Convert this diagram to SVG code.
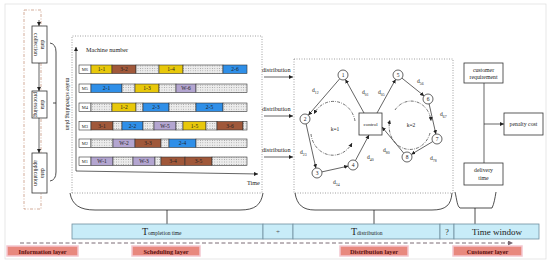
<svg xmlns="http://www.w3.org/2000/svg" width="550" height="263" viewBox="0 0 550 263">
<defs>
<pattern id="dots" width="2.4" height="2.4" patternUnits="userSpaceOnUse">
<rect width="2.4" height="2.4" fill="#ececec"/>
<circle cx="1.2" cy="1.2" r="0.45" fill="#8a8a8a"/>
</pattern>
<marker id="ah" viewBox="0 0 10 10" refX="10" refY="5" markerWidth="5" markerHeight="5" orient="auto" markerUnits="userSpaceOnUse">
<path d="M0,0 L10,5 L0,10 z" fill="#222"/>
</marker>
<marker id="ahs" viewBox="0 0 10 10" refX="10" refY="5" markerWidth="4" markerHeight="4" orient="auto" markerUnits="userSpaceOnUse">
<path d="M0,0 L10,5 L0,10 z" fill="#222"/>
</marker>
<marker id="ahd" viewBox="0 0 10 10" refX="10" refY="5" markerWidth="5" markerHeight="5" orient="auto" markerUnits="userSpaceOnUse">
<path d="M0,0 L10,5 L0,10 z" fill="#7a6a74"/>
</marker>
</defs>
<style>
text{font-family:"Liberation Serif","Times New Roman",serif;fill:#222}
.seg{stroke:#333;stroke-width:0.6}
.y{fill:#e8c80a}.b{fill:#a0583a}.bl{fill:#2f8fe8}.p{fill:#b3a5d0}.d{fill:url(#dots)}.lb{fill:#fff}
.st{font-size:5.5px;text-anchor:middle}
.ml{font-size:4.5px;text-anchor:middle}
.box{fill:#fff;stroke:#333;stroke-width:0.8}
.bt{font-size:5.8px;text-anchor:middle}
.dot{fill:none;stroke:#888;stroke-width:0.8;stroke-dasharray:1 1.5}
.ln{fill:none;stroke:#222;stroke-width:0.7}
.node{fill:#fff;stroke:#222;stroke-width:0.7}
.nt{font-size:5.5px;text-anchor:middle}
.el{font-size:5.5px}
.sub{font-size:3.8px}
.loop{fill:none;stroke:#333;stroke-width:0.7;stroke-dasharray:3 1.2 0.8 1.2}
.cell{fill:#c8ecf8;stroke:#6f8f9f;stroke-width:0.8}
.lay{fill:#e8887e;stroke:#f4c6cf;stroke-width:1.5}
.lt{font-size:6.3px;font-weight:bold;fill:#5a1010;text-anchor:middle}
.brace{fill:none;stroke:#222;stroke-width:0.8}
</style>
<rect x="0" y="0" width="550" height="263" fill="#fff"/>
<rect x="5" y="4" width="541" height="255" fill="none" stroke="#dcdcdc" stroke-width="0.7"/>

<g id="info-layer">
<rect x="24" y="10" width="17" height="199" fill="none" stroke="#c08a70" stroke-width="0.7" stroke-dasharray="3 1.5 1 1.5"/>
<line x1="39" y1="20" x2="39" y2="26" class="ln" marker-end="url(#ahs)"/>
<g id="data-collection">
<rect x="32" y="26" width="15" height="37" class="box"/>
<text class="bt" transform="translate(39.5,44.5) rotate(90)"><tspan x="0" y="-1.5">data</tspan><tspan x="0" y="5.5">collection</tspan></text>
</g>
<g id="data-processing">
<rect x="32" y="91" width="15" height="27" class="box"/>
<text class="bt" transform="translate(39.5,104.5) rotate(90)"><tspan x="0" y="-1.5">data</tspan><tspan x="0" y="5.5">processing</tspan></text>
</g>
<g id="data-application">
<rect x="32" y="153" width="15" height="40" class="box"/>
<text class="bt" transform="translate(39.5,173) rotate(90)"><tspan x="0" y="-1.5">data</tspan><tspan x="0" y="5.5">application</tspan></text>
</g>
</g>

<g id="scheduling-layer">
<path d="M50 43 Q56 44 56 52 L56 172 Q56 180 50 181 M56 103 L53 103" class="brace"/>
<text transform="translate(64,104) rotate(90)" style="font-size:6px;text-anchor:middle" y="-1.5">make scheduling plan</text>
<path d="M72 193 L72 36 L262 36 L262 193" class="dot"/>
<line x1="72" y1="193" x2="262" y2="193" class="dot"/>
<line x1="76" y1="171" x2="76" y2="47" class="ln" marker-end="url(#ahs)"/>
<line x1="76" y1="171" x2="258" y2="174" class="ln" marker-end="url(#ahs)"/>
<text x="86" y="52" style="font-size:6.2px">Machine number</text>
<text x="247" y="185" style="font-size:6.2px">Time</text>

<g id="row-M6">
<rect x="79" y="65" width="12" height="8.5" class="seg lb"/><text x="85" y="71" class="ml">M6</text>
<rect x="91" y="65" width="21" height="8.5" class="seg y"/><text x="101.5" y="71.2" class="st">1-1</text>
<rect x="112" y="65" width="24" height="8.5" class="seg b"/><text x="124" y="71.2" class="st">3-2</text>
<rect x="136" y="65" width="23" height="8.5" class="seg d"/>
<rect x="159" y="65" width="24" height="8.5" class="seg y"/><text x="171" y="71.2" class="st">1-4</text>
<rect x="183" y="65" width="40" height="8.5" class="seg d"/>
<rect x="223" y="65" width="24" height="8.5" class="seg bl"/><text x="235" y="71.2" class="st">2-6</text>
</g>
<g id="row-M5">
<rect x="79" y="84" width="12" height="8.5" class="seg lb"/><text x="85" y="90" class="ml">M5</text>
<rect x="91" y="84" width="31" height="8.5" class="seg bl"/><text x="106.5" y="90.2" class="st">2-1</text>
<rect x="122" y="84" width="13" height="8.5" class="seg d"/>
<rect x="135" y="84" width="24" height="8.5" class="seg y"/><text x="147" y="90.2" class="st">1-3</text>
<rect x="159" y="84" width="17" height="8.5" class="seg d"/>
<rect x="176" y="84" width="20" height="8.5" class="seg p"/><text x="186" y="90.2" class="st">W-6</text>
<rect x="196" y="84" width="51" height="8.5" class="seg d"/>
</g>
<g id="row-M4">
<rect x="79" y="103" width="12" height="8.5" class="seg lb"/><text x="85" y="109" class="ml">M4</text>
<rect x="91" y="103" width="21" height="8.5" class="seg d"/>
<rect x="112" y="103" width="24" height="8.5" class="seg y"/><text x="124" y="109.2" class="st">1-2</text>
<rect x="136" y="103" width="7" height="8.5" class="seg d"/>
<rect x="143" y="103" width="26" height="8.5" class="seg bl"/><text x="156" y="109.2" class="st">2-3</text>
<rect x="169" y="103" width="27" height="8.5" class="seg d"/>
<rect x="196" y="103" width="27" height="8.5" class="seg bl"/><text x="209.5" y="109.2" class="st">2-5</text>
<rect x="223" y="103" width="24" height="8.5" class="seg d"/>
</g>
<g id="row-M3">
<rect x="79" y="121.5" width="12" height="8.5" class="seg lb"/><text x="85" y="127.5" class="ml">M3</text>
<rect x="91" y="121.5" width="22" height="8.5" class="seg b"/><text x="102" y="127.7" class="st">3-1</text>
<rect x="113" y="121.5" width="9" height="8.5" class="seg d"/>
<rect x="122" y="121.5" width="21" height="8.5" class="seg bl"/><text x="132.5" y="127.7" class="st">2-2</text>
<rect x="143" y="121.5" width="11" height="8.5" class="seg d"/>
<rect x="154" y="121.5" width="22" height="8.5" class="seg p"/><text x="165" y="127.7" class="st">W-5</text>
<rect x="176" y="121.5" width="7" height="8.5" class="seg d"/>
<rect x="183" y="121.5" width="23" height="8.5" class="seg y"/><text x="194.5" y="127.7" class="st">1-5</text>
<rect x="206" y="121.5" width="11" height="8.5" class="seg d"/>
<rect x="217" y="121.5" width="26" height="8.5" class="seg b"/><text x="230" y="127.7" class="st">3-6</text>
<rect x="243" y="121.5" width="4" height="8.5" class="seg d"/>
</g>
<g id="row-M2">
<rect x="79" y="139" width="12" height="8.5" class="seg lb"/><text x="85" y="145" class="ml">M2</text>
<rect x="91" y="139" width="22" height="8.5" class="seg d"/>
<rect x="113" y="139" width="22" height="8.5" class="seg p"/><text x="124" y="145.2" class="st">W-2</text>
<rect x="135" y="139" width="26" height="8.5" class="seg b"/><text x="148" y="145.2" class="st">3-3</text>
<rect x="161" y="139" width="8" height="8.5" class="seg d"/>
<rect x="169" y="139" width="27" height="8.5" class="seg bl"/><text x="182.5" y="145.2" class="st">2-4</text>
<rect x="196" y="139" width="51" height="8.5" class="seg d"/>
</g>
<g id="row-M1">
<rect x="79" y="157" width="12" height="8.5" class="seg lb"/><text x="85" y="163" class="ml">M1</text>
<rect x="91" y="157" width="22" height="8.5" class="seg p"/><text x="102" y="163.2" class="st">W-1</text>
<rect x="113" y="157" width="20" height="8.5" class="seg d"/>
<rect x="133" y="157" width="22" height="8.5" class="seg p"/><text x="144" y="163.2" class="st">W-3</text>
<rect x="155" y="157" width="6" height="8.5" class="seg d"/>
<rect x="161" y="157" width="24" height="8.5" class="seg b"/><text x="173" y="163.2" class="st">3-4</text>
<rect x="185" y="157" width="27" height="8.5" class="seg b"/><text x="198.5" y="163.2" class="st">3-5</text>
<rect x="212" y="157" width="35" height="8.5" class="seg d"/>
</g>
</g>

<g id="connectors">
<line x1="39" y1="63" x2="39" y2="91" class="ln" marker-end="url(#ahs)"/>
<line x1="39" y1="118" x2="39" y2="153" class="ln" marker-end="url(#ahs)"/>
<line x1="264" y1="77" x2="293" y2="77" class="ln" marker-end="url(#ahs)"/>
<line x1="264" y1="116" x2="293" y2="116" class="ln" marker-end="url(#ahs)"/>
<line x1="264" y1="157" x2="293" y2="157" class="ln" marker-end="url(#ahs)"/>
<line x1="339.7" y1="78.8" x2="308.3" y2="115.2" class="ln" marker-end="url(#ahs)"/>
<line x1="364" y1="113" x2="345.4" y2="79.4" class="ln" marker-end="url(#ahs)"/>
<line x1="306.1" y1="123.9" x2="315.9" y2="168.1" class="ln" marker-end="url(#ahs)"/>
<line x1="321.9" y1="171.9" x2="348.1" y2="166.1" class="ln" marker-end="url(#ahs)"/>
<line x1="355.4" y1="160.6" x2="369" y2="135" class="ln" marker-end="url(#ahs)"/>
<line x1="377" y1="113" x2="395.6" y2="79.4" class="ln" marker-end="url(#ahs)"/>
<line x1="401.9" y1="78.1" x2="424.1" y2="95.9" class="ln" marker-end="url(#ahs)"/>
<line x1="429.1" y1="103.9" x2="435.9" y2="134.1" class="ln" marker-end="url(#ahs)"/>
<line x1="432.7" y1="141.6" x2="411.3" y2="154.4" class="ln" marker-end="url(#ahs)"/>
<line x1="403.8" y1="153.2" x2="382" y2="127" class="ln" marker-end="url(#ahs)"/>
<path d="M355 121 A22 24 0 0 0 314 114" class="loop" marker-end="url(#ahs)"/>
<path d="M311 134 A22 24 0 0 0 352 143" class="loop" marker-end="url(#ahs)"/>
<path d="M395 110 A20 22 0 0 1 431 121" class="loop" marker-end="url(#ahs)"/>
<path d="M430 133 A20 22 0 0 1 390 120" class="loop" marker-end="url(#ahs)"/>
<line x1="484" y1="83" x2="484" y2="163" class="ln"/>
<line x1="484" y1="124" x2="504" y2="124" class="ln" marker-end="url(#ahs)"/>
<line x1="20" y1="243" x2="513" y2="243" fill="none" stroke="#7a6a74" stroke-width="1" stroke-dasharray="4 2.5" marker-end="url(#ahd)"/>
</g>

<g id="distribution-layer">
<text x="262" y="72" style="font-size:6.2px">distribution</text>
<text x="262" y="111" style="font-size:6.2px">distribution</text>
<text x="262" y="152" style="font-size:6.2px">distribution</text>
<rect x="294" y="59" width="159" height="134" class="dot"/>
<g id="node-1"><circle cx="343" cy="75" r="5" class="node"/><text x="343" y="77" class="nt">1</text></g>
<g id="node-2"><circle cx="305" cy="119" r="5" class="node"/><text x="305" y="121" class="nt">2</text></g>
<g id="node-3"><circle cx="317" cy="173" r="5" class="node"/><text x="317" y="175" class="nt">3</text></g>
<g id="node-4"><circle cx="353" cy="165" r="5" class="node"/><text x="353" y="167" class="nt">4</text></g>
<g id="node-5"><circle cx="398" cy="75" r="5" class="node"/><text x="398" y="77" class="nt">5</text></g>
<g id="node-6"><circle cx="428" cy="99" r="5" class="node"/><text x="428" y="101" class="nt">6</text></g>
<g id="node-7"><circle cx="437" cy="139" r="5" class="node"/><text x="437" y="141" class="nt">7</text></g>
<g id="node-8"><circle cx="407" cy="157" r="5" class="node"/><text x="407" y="159" class="nt">8</text></g>
<g id="control"><rect x="359" y="113" width="23" height="22" fill="#fff" stroke="#333" stroke-width="0.8"/><text x="370.5" y="126" style="font-size:5px;text-anchor:middle">control</text></g>
<text x="312" y="92" class="el">d<tspan class="sub" dy="1.5">12</tspan></text>
<text x="300" y="154" class="el">d<tspan class="sub" dy="1.5">23</tspan></text>
<text x="333" y="184" class="el">d<tspan class="sub" dy="1.5">34</tspan></text>
<text x="362" y="94" class="el">d<tspan class="sub" dy="1.5">01</tspan></text>
<text x="378" y="94" class="el">d<tspan class="sub" dy="1.5">05</tspan></text>
<text x="417" y="83" class="el">d<tspan class="sub" dy="1.5">56</tspan></text>
<text x="440" y="116" class="el">d<tspan class="sub" dy="1.5">67</tspan></text>
<text x="430" y="160" class="el">d<tspan class="sub" dy="1.5">78</tspan></text>
<text x="383" y="152" class="el">d<tspan class="sub" dy="1.5">80</tspan></text>
<text x="367" y="159" class="el">d<tspan class="sub" dy="1.5">40</tspan></text>
<text x="335" y="131" style="font-size:5.5px;text-anchor:middle">k=1</text>
<text x="411" y="127" style="font-size:5.5px;text-anchor:middle">k=2</text>
</g>

<g id="customer-layer">
<g id="customer-requirement"><rect x="464" y="63" width="39" height="20" class="box"/><text x="483.5" y="72" class="bt">customer</text><text x="483.5" y="79" class="bt">requirement</text></g>
<g id="penalty-cost"><rect x="504" y="113" width="39" height="22" class="box"/><text x="523.5" y="126" class="bt">penalty cost</text></g>
<g id="delivery-time"><rect x="464" y="163" width="39" height="22" class="box"/><text x="483.5" y="172" class="bt">delivery</text><text x="483.5" y="180" class="bt">time</text></g>
</g>

<g id="braces">
<path d="M70 193 C72 205 80 210 95 210 L240 210 C255 210 261 205 263 193 M167 210 L167 224" class="brace"/>
<path d="M295 193 C297 205 303 210 315 210 L432 210 C446 210 451 205 452 193 M374 210 L374 224" class="brace"/>
<path d="M455 192 C457 200 457 206 460 208 L492 208 C494 204 495 198 496 192 M475 208 L475 224" class="brace"/>
</g>

<g id="time-bar">
<rect x="72" y="224" width="191" height="15" class="cell"/>
<rect x="263" y="224" width="30" height="15" class="cell"/>
<rect x="293" y="224" width="147" height="15" class="cell"/>
<rect x="440" y="224" width="14" height="15" class="cell"/>
<rect x="454" y="224" width="85" height="15" class="cell"/>
<text x="142" y="235" style="font-size:10px">T<tspan style="font-size:5.5px">ompletion time</tspan></text>
<text x="278" y="234" style="font-size:7px;text-anchor:middle;fill:#555">+</text>
<text x="351" y="235" style="font-size:10px">T<tspan style="font-size:5.5px">distribution</tspan></text>
<text x="447" y="235" style="font-size:8px;text-anchor:middle">?</text>
<text x="497" y="235" style="font-size:9px;text-anchor:middle">Time window</text>
</g>

<g id="layer-labels">
<rect x="7" y="246" width="71" height="10" class="lay"/><text x="42.5" y="253.5" class="lt">Information layer</text>
<rect x="132" y="246" width="68" height="10" class="lay"/><text x="166" y="253.5" class="lt">Scheduling layer</text>
<rect x="340" y="246" width="68" height="10" class="lay"/><text x="374" y="253.5" class="lt">Distribution layer</text>
<rect x="453" y="246" width="69" height="10" class="lay"/><text x="487.5" y="253.5" class="lt">Customer layer</text>
</g>
</svg>
